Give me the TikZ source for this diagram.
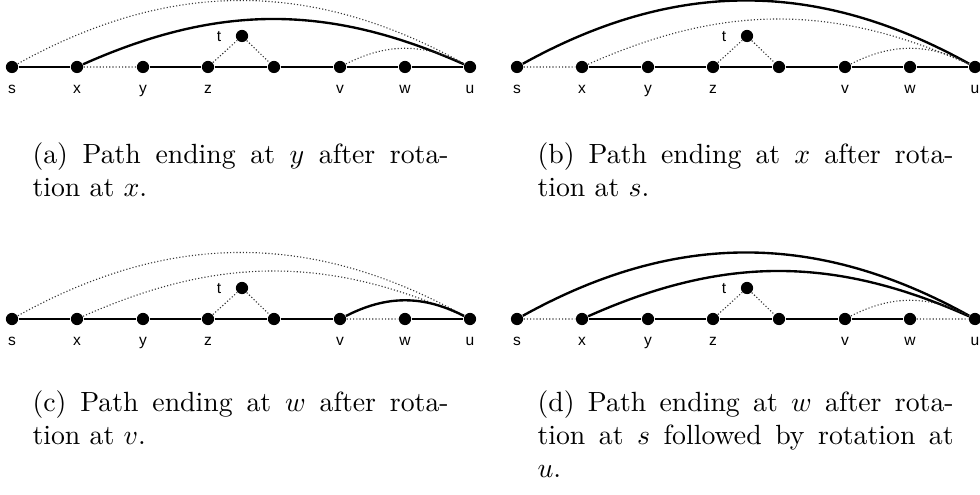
\documentclass[tikz,border=0pt]{standalone}
\usepackage{fontspec}
\newfontfamily\labfont{Liberation Sans}
\tikzset{
  x=0.36pt, y=0.36pt,
  vtx/.style={circle, fill=black, draw=none, inner sep=0pt, minimum size=4.4pt},
  lab/.style={font=\labfont\fontsize{5.6}{6.5}\selectfont, inner sep=0pt, anchor=base},
  pth/.style={line width=0.85pt, black},
  dotl/.style={line width=0.4pt, black!80, dash pattern=on 0.4pt off 0.75pt},
  capt/.style={inner sep=0pt, anchor=base west, font=\fontsize{10}{12}\selectfont}
}
\newcommand\mknodes[3]{%
  \begin{scope}[shift={(#2,#3)}]
    \foreach \n/\xx in {s/12,x/77,y/143,z/208,m/274,v/340,w/405,u/470}{
      \node[vtx] (#1\n) at (\xx,-67) {};
    }
    \foreach \n/\xx in {s/12,x/77,y/143,z/208,v/340,w/405,u/470}{
      \node[lab] (#1\n l) at (\xx,-94) {\n};
    }
    \node[vtx] (#1t) at (242,-36) {};
    \node[lab] (#1tl) at (219,-41.5) {t};
  \end{scope}}
\begin{document}
\begin{tikzpicture}
\useasboundingbox (0,0) rectangle (980,-495);
% panel a
\mknodes{a}{0}{0}
\draw[pth] (as)--(ax) (ay)--(az)--(am)--(av)--(aw)--(au);
\draw[dotl] (ax)--(ay) (az)--(at)--(am);
\draw[dotl] (as) to[bend left=29] (au);
\draw[pth] (ax) to[bend left=24] (au);
\draw[dotl] (av) to[bend left=27] (au);
% panel b
\mknodes{b}{505}{0}
\draw[pth] (bx)--(by)--(bz)--(bm)--(bv)--(bw)--(bu);
\draw[dotl] (bs)--(bx) (bz)--(bt)--(bm);
\draw[pth] (bs) to[bend left=29] (bu);
\draw[dotl] (bx) to[bend left=24] (bu);
\draw[dotl] (bv) to[bend left=27] (bu);
% panel c
\mknodes{c}{0}{-252}
\draw[pth] (cs)--(cx)--(cy)--(cz)--(cm)--(cv) (cw)--(cu);
\draw[dotl] (cv)--(cw) (cz)--(ct)--(cm);
\draw[dotl] (cs) to[bend left=29] (cu);
\draw[dotl] (cx) to[bend left=24] (cu);
\draw[pth] (cv) to[bend left=27] (cu);
% panel d
\mknodes{d}{505}{-252}
\draw[pth] (dx)--(dy)--(dz)--(dm)--(dv)--(dw);
\draw[dotl] (ds)--(dx) (dw)--(du) (dz)--(dt)--(dm);
\draw[pth] (ds) to[bend left=29] (du);
\draw[pth] (dx) to[bend left=24] (du);
\draw[dotl] (dv) to[bend left=27] (du);
% captions
\node[capt] (ca1) at (32,-164) {\hbox to 149.8pt{(a) Path ending at $y$ after rota-}};
\node[capt] (ca2) at (32,-197) {tion at $x$.};
\node[capt] (cb1) at (537,-164) {\hbox to 149.8pt{(b) Path ending at $x$ after rota-}};
\node[capt] (cb2) at (537,-197) {tion at $s$.};
\node[capt] (cc1) at (32,-412) {\hbox to 149.8pt{(c) Path ending at $w$ after rota-}};
\node[capt] (cc2) at (32,-445) {tion at $v$.};
\node[capt] (cd1) at (537,-412) {\hbox to 149.8pt{(d) Path ending at $w$ after rota-}};
\node[capt] (cd2) at (537,-445) {\hbox to 149.8pt{tion at $s$ followed by rotation at}};
\node[capt] (cd3) at (537,-478) {$u$.};
\end{tikzpicture}
\end{document}
